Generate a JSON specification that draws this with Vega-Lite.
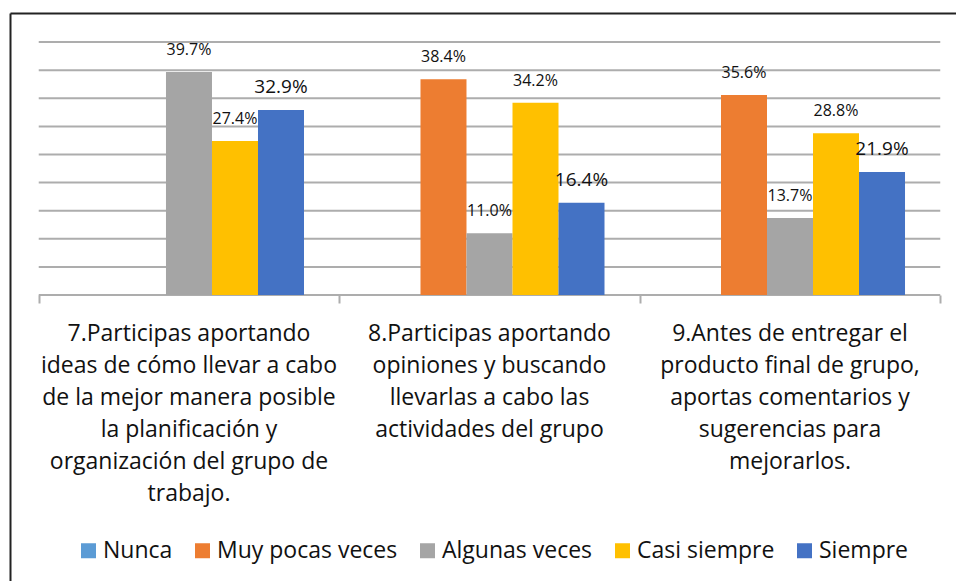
{
  "$schema": "https://vega.github.io/schema/vega-lite/v6.json",
  "width": 946,
  "height": 568,
  "autosize": {"type": "none"},
  "padding": {"left": 10, "top": 13, "right": 0, "bottom": 0},
  "background": "white",
  "config": {
    "view": {"stroke": null},
    "font": "Open Sans"
  },
  "datasets": {
    "resp": [
      {"cat": "7.Participas aportando ideas de cómo llevar a cabo de la mejor manera posible la planificación y organización del grupo de trabajo.", "serie": "Nunca", "value": 0},
      {"cat": "7.Participas aportando ideas de cómo llevar a cabo de la mejor manera posible la planificación y organización del grupo de trabajo.", "serie": "Muy pocas veces", "value": 0},
      {"cat": "7.Participas aportando ideas de cómo llevar a cabo de la mejor manera posible la planificación y organización del grupo de trabajo.", "serie": "Algunas veces", "value": 0.397},
      {"cat": "7.Participas aportando ideas de cómo llevar a cabo de la mejor manera posible la planificación y organización del grupo de trabajo.", "serie": "Casi siempre", "value": 0.274},
      {"cat": "7.Participas aportando ideas de cómo llevar a cabo de la mejor manera posible la planificación y organización del grupo de trabajo.", "serie": "Siempre", "value": 0.329},
      {"cat": "8.Participas aportando opiniones y buscando llevarlas a cabo las actividades del grupo", "serie": "Nunca", "value": 0},
      {"cat": "8.Participas aportando opiniones y buscando llevarlas a cabo las actividades del grupo", "serie": "Muy pocas veces", "value": 0.384},
      {"cat": "8.Participas aportando opiniones y buscando llevarlas a cabo las actividades del grupo", "serie": "Algunas veces", "value": 0.110},
      {"cat": "8.Participas aportando opiniones y buscando llevarlas a cabo las actividades del grupo", "serie": "Casi siempre", "value": 0.342},
      {"cat": "8.Participas aportando opiniones y buscando llevarlas a cabo las actividades del grupo", "serie": "Siempre", "value": 0.164},
      {"cat": "9.Antes de entregar el producto final de grupo, aportas comentarios y sugerencias para mejorarlos.", "serie": "Nunca", "value": 0},
      {"cat": "9.Antes de entregar el producto final de grupo, aportas comentarios y sugerencias para mejorarlos.", "serie": "Muy pocas veces", "value": 0.356},
      {"cat": "9.Antes de entregar el producto final de grupo, aportas comentarios y sugerencias para mejorarlos.", "serie": "Algunas veces", "value": 0.137},
      {"cat": "9.Antes de entregar el producto final de grupo, aportas comentarios y sugerencias para mejorarlos.", "serie": "Casi siempre", "value": 0.288},
      {"cat": "9.Antes de entregar el producto final de grupo, aportas comentarios y sugerencias para mejorarlos.", "serie": "Siempre", "value": 0.219}
    ],
    "cats": [
      {"cat": "7.Participas aportando ideas de cómo llevar a cabo de la mejor manera posible la planificación y organización del grupo de trabajo.", "label": "7.Participas aportando\nideas de cómo llevar a cabo\nde la mejor manera posible\nla planificación y\norganización del grupo de\ntrabajo."},
      {"cat": "8.Participas aportando opiniones y buscando llevarlas a cabo las actividades del grupo", "label": "8.Participas aportando\nopiniones y buscando\nllevarlas a cabo las\nactividades del grupo"},
      {"cat": "9.Antes de entregar el producto final de grupo, aportas comentarios y sugerencias para mejorarlos.", "label": "9.Antes de entregar el\nproducto final de grupo,\naportas comentarios y\nsugerencias para\nmejorarlos."}
    ],
    "grid": [
      {"g": 0}, {"g": 0.05}, {"g": 0.10}, {"g": 0.15}, {"g": 0.20},
      {"g": 0.25}, {"g": 0.30}, {"g": 0.35}, {"g": 0.40}, {"g": 0.45}
    ]
  },
  "resolve": {"axis": {"x": "independent"}},
  "layer": [
    {
      "data": {"name": "grid"},
      "mark": {"type": "rule", "color": "#ADADAD", "strokeWidth": 2},
      "encoding": {
        "y": {
          "field": "g", "type": "quantitative",
          "scale": {"domain": [-0.5089, 0.5018], "nice": false, "zero": false},
          "axis": {"domain": true, "domainColor": "#222222", "domainWidth": 2, "labels": false, "ticks": false, "grid": false, "title": null}
        },
        "x": {
          "datum": "7.Participas aportando ideas de cómo llevar a cabo de la mejor manera posible la planificación y organización del grupo de trabajo.",
          "type": "nominal", "bandPosition": 0,
          "scale": {
            "domain": [
              "7.Participas aportando ideas de cómo llevar a cabo de la mejor manera posible la planificación y organización del grupo de trabajo.",
              "8.Participas aportando opiniones y buscando llevarlas a cabo las actividades del grupo",
              "9.Antes de entregar el producto final de grupo, aportas comentarios y sugerencias para mejorarlos."
            ],
            "paddingInner": 0, "paddingOuter": 0.074, "align": 0.646, "round": false
          },
          "axis": {"orient": "top", "domain": true, "domainColor": "#222222", "domainWidth": 2, "labels": false, "ticks": false, "grid": false, "title": null}
        },
        "x2": {"datum": "9.Antes de entregar el producto final de grupo, aportas comentarios y sugerencias para mejorarlos.", "bandPosition": 1}
      }
    },
    {
      "data": {"name": "resp"},
      "mark": {"type": "bar"},
      "encoding": {
        "x": {
          "field": "cat", "type": "nominal", "sort": null,
          "axis": {
            "orient": "bottom", "offset": -286, "title": null, "domain": false, "grid": false,
            "ticks": true, "tickBand": "extent", "tickColor": "#ADADAD", "tickWidth": 2, "tickSize": 8,
            "labels": false
          }
        },
        "xOffset": {
          "field": "serie", "type": "nominal",
          "scale": {"domain": ["Nunca", "Muy pocas veces", "Algunas veces", "Casi siempre", "Siempre"], "paddingInner": 0, "paddingOuter": 0.766}
        },
        "y": {"field": "value", "type": "quantitative"},
        "color": {
          "field": "serie", "type": "nominal",
          "scale": {
            "domain": ["Nunca", "Muy pocas veces", "Algunas veces", "Casi siempre", "Siempre"],
            "range": ["#5B9BD5", "#ED7D31", "#A5A5A5", "#FFC000", "#4472C4"]
          },
          "legend": {
            "orient": "none", "legendX": 67, "legendY": 526, "direction": "horizontal", "columns": 5,
            "title": null, "symbolType": "square", "symbolSize": 225, "symbolStrokeWidth": 0,
            "labelFont": "Open Sans", "labelFontSize": 23, "labelColor": "#111111", "labelLimit": 400,
            "labelOffset": 3, "columnPadding": 18
          }
        }
      }
    },
    {
      "data": {"name": "resp"},
      "transform": [{"filter": "datum.value > 0"}],
      "mark": {"type": "text", "baseline": "alphabetic", "dy": -17, "color": "#111111", "font": "Open Sans"},
      "encoding": {
        "x": {"field": "cat", "type": "nominal", "sort": null, "axis": null},
        "xOffset": {"field": "serie", "type": "nominal"},
        "y": {"field": "value", "type": "quantitative"},
        "text": {"field": "value", "type": "quantitative", "format": ".1%"},
        "size": {"condition": {"test": "datum.serie == 'Siempre'", "value": 19}, "value": 16}
      }
    },
    {
      "data": {"name": "cats"},
      "mark": {"type": "text", "baseline": "top", "align": "center", "lineBreak": "\n", "lineHeight": 32, "fontSize": 23, "color": "#111111", "font": "Open Sans"},
      "encoding": {
        "x": {"field": "cat", "type": "nominal", "sort": null, "axis": null},
        "y": {"datum": -0.05, "type": "quantitative"},
        "text": {"field": "label", "type": "nominal"}
      }
    }
  ]
}
